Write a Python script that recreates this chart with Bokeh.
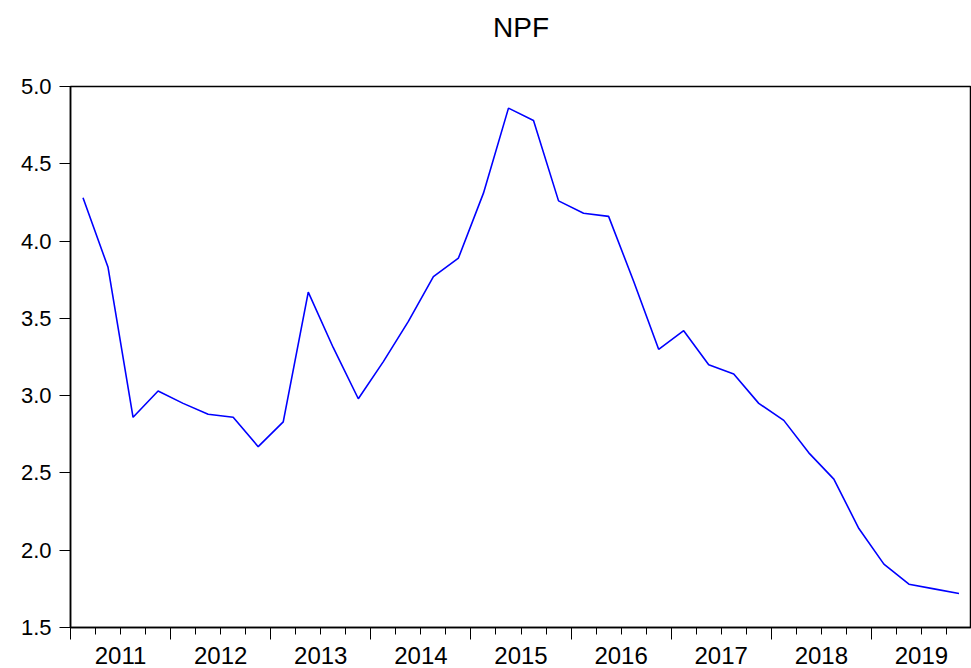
from bokeh.plotting import figure
from bokeh.models import (FixedTicker, LinearAxis, Range1d, PrintfTickFormatter,
                          CustomLabelingPolicy)
from bokeh.embed import file_html
from bokeh.resources import INLINE

title_text = "NPF"
years = [2011, 2012, 2013, 2014, 2015, 2016, 2017, 2018, 2019]
npf = [4.28, 3.83, 2.86, 3.03,
       2.95, 2.88, 2.86, 2.67,
       2.83, 3.67, 3.31, 2.98,
       3.22, 3.48, 3.77, 3.89,
       4.31, 4.86, 4.78, 4.26,
       4.18, 4.16, 3.74, 3.30,
       3.42, 3.20, 3.14, 2.95,
       2.84, 2.63, 2.46, 2.14,
       1.91, 1.78, 1.75, 1.72]
y_ticks = [1.5, 2.0, 2.5, 3.0, 3.5, 4.0, 4.5, 5.0]
year_labels = [str(y) for y in years]

# quarterly observations placed at the middle of each quarter
x = [years[0] + (i + 0.5) / 4 for i in range(len(npf))]

FONT = "Liberation Sans"

p = figure(width=971, height=668, output_backend="svg", toolbar_location=None,
           title=title_text + "\n",
           x_range=Range1d(years[0], years[-1] + 1),
           y_range=Range1d(y_ticks[0], y_ticks[-1]),
           min_border_left=70, min_border_right=0,
           min_border_top=86, min_border_bottom=41)

p.line(x, npf, line_color="#0000FF", line_width=1.6)

p.xgrid.grid_line_color = None
p.ygrid.grid_line_color = None
p.outline_line_color = "black"
p.outline_line_width = 1.5
p.background_fill_color = "white"
p.border_fill_color = "white"

# title (a trailing empty line lifts it towards the top of the page)
p.title.align = "center"
p.title.vertical_align = "top"
p.title.standoff = 22
p.title.text_font = FONT
p.title.text_font_size = "28px"
p.title.text_font_style = "normal"
p.title.text_color = "black"

# y axis
ya = p.yaxis[0]
ya.ticker = FixedTicker(ticks=y_ticks)
ya.formatter = PrintfTickFormatter(format="%.1f")
ya.major_tick_in = 0
ya.major_tick_out = 11
ya.minor_tick_in = 0
ya.minor_tick_out = 0
ya.major_label_standoff = 8
ya.major_label_text_font = FONT
ya.major_label_text_font_size = "22px"
ya.major_label_text_color = "black"
ya.axis_line_width = 1.5
ya.axis_line_color = "black"
ya.major_tick_line_color = "black"

# x axis 1: year boundary ticks and quarter ticks, no labels
xa = p.xaxis[0]
xa.ticker = FixedTicker(ticks=years + [years[-1] + 1],
                        minor_ticks=[years[0] + k / 4 for k in range(len(years) * 4 + 1)])
xa.major_tick_in = 0
xa.major_tick_out = 12
xa.minor_tick_in = 0
xa.minor_tick_out = 7
xa.major_label_text_font_size = "0px"
xa.major_label_standoff = 0
xa.major_label_policy = CustomLabelingPolicy(code="""
const all = Array.from(indices)
for (const i of all) indices.unset(i)
return indices
""")
xa.axis_line_width = 1.5
xa.axis_line_color = "black"
xa.major_tick_line_color = "black"
xa.minor_tick_line_color = "black"

# x axis 2: year labels centred in each year
mid = [y + 0.5 for y in years]
xa2 = LinearAxis(ticker=FixedTicker(ticks=mid, minor_ticks=[]),
                 major_label_overrides={m: lab for m, lab in zip(mid, year_labels)})
xa2.axis_line_color = None
xa2.major_tick_line_color = None
xa2.minor_tick_line_color = None
xa2.major_tick_in = 0
xa2.major_tick_out = 0
xa2.major_label_standoff = 7
xa2.major_label_text_font = FONT
xa2.major_label_text_font_size = "24px"
xa2.major_label_text_color = "black"
p.add_layout(xa2, "below")

open("out.html", "w").write(file_html(p, INLINE))
